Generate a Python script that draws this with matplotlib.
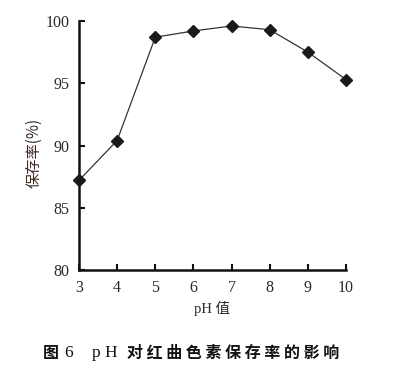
import matplotlib
matplotlib.use("Agg")
import matplotlib.pyplot as plt

ph = [3, 4, 5, 6, 7, 8, 9, 10]
retention = [87.2, 90.4, 98.7, 99.2, 99.6, 99.3, 97.5, 95.3]
xticks = [3, 4, 5, 6, 7, 8, 9, 10]
yticks = [80, 85, 90, 95, 100]

W, H = 395, 367
cjk = ["Noto Sans CJK SC", "DejaVu Sans"]
serif = ["Liberation Serif", "DejaVu Serif"]

fig = plt.figure(figsize=(W / 100, H / 100), dpi=100)
ax = fig.add_axes([79 / W, 1 - 270 / H, (346 - 79) / W, (270 - 21) / H])

ax.plot(ph, retention, color="#333333", lw=0.9, marker="D", ms=6.5,
        mfc="#1a1a1a", mec="#1a1a1a", clip_on=False, zorder=3)

ax.set_xlim(3, 10)
ax.set_ylim(80, 100)
ax.set_xticks(xticks)
ax.set_yticks(yticks)
for s in ["top", "right"]:
    ax.spines[s].set_visible(False)
for s in ["left", "bottom"]:
    ax.spines[s].set_linewidth(1.8)
    ax.spines[s].set_color("#111111")
ax.tick_params(direction="in", length=4, width=1.5, color="#111111",
               labelsize=11.5, labelcolor="#2a2a2a", pad=7)
for lab in ax.get_xticklabels() + ax.get_yticklabels():
    lab.set_family(serif)

ax.set_xlabel("pH 值", family=["Liberation Serif", "Noto Sans CJK SC"],
              fontsize=10.5, color="#2a2a2a", labelpad=4)
ax.set_ylabel("保存率(%)", family=cjk, fontsize=11, color="#3a2a20")
ax.yaxis.set_label_coords(-0.135, 0.47)

ypos = 1 - 353 / H
fig.text(43 / W, ypos, "图", family=cjk, fontsize=11.5, weight="bold",
         color="#111111", va="center", ha="left")
fig.text(64 / W, ypos, "6", family=serif, fontsize=12.5,
         color="#111111", va="center", ha="left")
fig.text(92 / W, ypos, "p H", family=serif, fontsize=12.5,
         color="#111111", va="center", ha="left")
fig.text(127 / W, ypos, " ".join("对红曲色素保存率的影响"), family=cjk,
         fontsize=11.5, weight="bold", color="#111111", va="center",
         ha="left")

fig.savefig("out.png", dpi=100)
